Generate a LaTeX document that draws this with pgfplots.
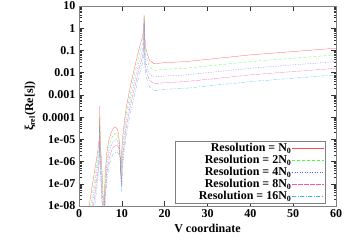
\documentclass[border=0pt]{standalone}
\usepackage{fontspec}
\setmainfont{Liberation Serif}
\usepackage{pgfplots}
\pgfplotsset{compat=1.18}
\begin{document}
\begin{tikzpicture}
\begin{axis}[
  scale only axis, width=257pt, height=200pt,
  xmin=0, xmax=60, ymin=1e-8, ymax=10, ymode=log,
  xtick={0,10,20,30,40,50,60}, xticklabels={0,10,20,30,40,50,60},
  ytick={1e-8,1e-7,1e-6,1e-5,1e-4,1e-3,1e-2,1e-1,1,10},
  yticklabels={1e-08,1e-07,1e-06,1e-05,0.0001,0.001,0.01,0.1,1,10},
  tick label style={font=\fontsize{12}{14}\selectfont\bfseries},
  label style={font=\fontsize{12}{14}\selectfont\bfseries},
  xlabel={V coordinate},
  ylabel={ξ\textsubscript{rel}(Re[s])},
  tick align=inside, major tick length=5pt, minor tick length=2.5pt,
  axis line style={gray, line width=1pt},
  every tick/.style={black!80, line width=0.5pt},
  legend style={at={(0.96,0.01)}, anchor=south east, draw=gray, line width=1pt,
    font=\fontsize{12}{12}\selectfont\bfseries, row sep=0pt, inner sep=1pt,
    nodes={text height=8.5pt, text depth=2.5pt, inner sep=0.5pt}},
  legend cell align=right, legend plot pos=right,
  legend image code/.code={\draw[#1] (0pt,0pt) -- (32pt,0pt);},
]
\coordinate (ll) at (rel axis cs:0,0);
\coordinate (ur) at (rel axis cs:1,1);
\addplot[red!70, line width=0.25pt, solid] coordinates {
(2.2,5.01e-9)(2.6,2.0e-8)(3.0,6.31e-8)(3.5,2.51e-7)(4.0,1e-6)(4.4,3.16e-6)(4.7,1e-5)(4.8,5.01e-5)(4.85,3.16e-4)(4.9,3.98e-5)(5.0,6.31e-6)(5.3,6.31e-7)(5.6,5.01e-8)(5.8,2.51e-9)
(6.1,2.51e-7)(6.5,2.51e-6)(7.0,1e-5)(7.5,2.0e-5)(8.0,3.16e-5)(8.5,3.55e-5)(9.0,2.82e-5)(9.3,1.41e-5)(9.55,3.16e-6)(9.75,2.51e-7)(9.95,2.51e-6)
(10.2,1.26e-5)(10.6,6.31e-5)(11.0,2.51e-4)(12.0,2.51e-3)(13.0,1.78e-2)(14.0,0.112)(14.8,0.398)(15.1,0.794)(15.2,3.98)(15.3,0.501)(15.6,0.126)
(16.0,0.0631)(16.5,0.0355)(17.5,0.0251)(20,0.0282)(25,0.0316)(30,0.0398)(40,0.0631)(50,0.0891)(60,0.126)};
\addlegendentry{Resolution = N\textsubscript{0}}
\addplot[green!75, line width=0.25pt, dash pattern=on 3pt off 2pt] coordinates {
(2.5,5.01e-9)(2.9,1.58e-8)(3.3,5.01e-8)(3.7,1.58e-7)(4.1,6.31e-7)(4.45,2.0e-6)(4.7,5.01e-6)(4.8,2.0e-5)(4.85,1e-4)(4.9,1.58e-5)(5.0,3.16e-6)(5.3,3.16e-7)(5.55,3.16e-8)(5.75,2.51e-9)
(6.1,1e-7)(6.5,1.26e-6)(7.0,5.01e-6)(7.5,1e-5)(8.0,1.58e-5)(8.6,1.91e-5)(9.1,1.41e-5)(9.4,7.08e-6)(9.6,1.58e-6)(9.8,1.58e-7)(10.0,1.58e-6)
(10.25,7.94e-6)(10.65,3.55e-5)(11.0,1.26e-4)(12.0,1.26e-3)(13.0,8.91e-3)(14.0,0.0562)(14.8,0.2)(15.1,0.398)(15.2,3.16)(15.3,0.251)(15.6,0.0631)
(16.0,0.0316)(16.5,0.0178)(17.5,0.0126)(20,0.0141)(25,0.0158)(30,0.02)(40,0.0316)(50,0.0447)(60,0.0631)};
\addlegendentry{Resolution = 2N\textsubscript{0}}
\addplot[blue!65, line width=0.25pt, dash pattern=on 1pt off 1.5pt] coordinates {
(2.8,5.01e-9)(3.2,1.58e-8)(3.6,6.31e-8)(4.0,2.0e-7)(4.4,7.94e-7)(4.7,2.51e-6)(4.8,7.94e-6)(4.85,3.98e-5)(4.9,6.31e-6)(5.0,1.58e-6)(5.25,1.58e-7)(5.5,1.58e-8)(5.7,2.51e-9)
(6.1,5.01e-8)(6.5,6.31e-7)(7.0,2.51e-6)(7.5,5.01e-6)(8.0,7.94e-6)(8.7,1e-5)(9.2,7.08e-6)(9.5,3.16e-6)(9.7,7.94e-7)(9.85,1e-7)(10.05,1e-6)
(10.3,5.01e-6)(10.7,2.0e-5)(11.0,6.31e-5)(12.0,6.31e-4)(13.0,4.47e-3)(14.0,0.0282)(14.8,0.1)(15.1,0.2)(15.2,2.51)(15.3,0.126)(15.6,0.0316)
(16.0,0.0158)(16.5,8.91e-3)(17.5,6.31e-3)(20,7.08e-3)(25,7.94e-3)(30,0.01)(40,0.0158)(50,0.0224)(60,0.0316)};
\addlegendentry{Resolution = 4N\textsubscript{0}}
\addplot[magenta!65, line width=0.25pt, dash pattern=on 5pt off 1pt] coordinates {
(3.1,5.01e-9)(3.5,1.58e-8)(3.9,6.31e-8)(4.3,2.51e-7)(4.6,7.94e-7)(4.75,2.51e-6)(4.85,1.58e-5)(4.9,3.16e-6)(5.0,7.94e-7)(5.2,1e-7)(5.45,1e-8)(5.65,2.51e-9)
(6.1,2.51e-8)(6.5,3.16e-7)(7.0,1.26e-6)(7.5,2.82e-6)(8.0,4.47e-6)(8.8,5.62e-6)(9.3,3.98e-6)(9.6,1.58e-6)(9.75,5.01e-7)(9.9,7.08e-8)(10.1,6.31e-7)
(10.35,3.16e-6)(10.75,1.12e-5)(11.0,3.16e-5)(12.0,3.16e-4)(13.0,2.24e-3)(14.0,0.0141)(14.8,0.0501)(15.1,0.1)(15.2,2.0)(15.3,0.0631)(15.6,0.0158)
(16.0,7.94e-3)(16.5,4.47e-3)(17.5,3.16e-3)(20,3.55e-3)(25,3.98e-3)(30,5.01e-3)(40,7.94e-3)(50,0.0112)(60,0.0158)};
\addlegendentry{Resolution = 8N\textsubscript{0}}
\addplot[cyan!80, line width=0.25pt, dash pattern=on 4pt off 1.5pt on 1pt off 1.5pt] coordinates {
(3.4,5.01e-9)(3.8,1.58e-8)(4.2,7.94e-8)(4.5,2.51e-7)(4.75,1e-6)(4.85,6.31e-6)(4.9,1.58e-6)(5.0,3.98e-7)(5.2,5.01e-8)(5.4,7.94e-9)(5.6,2.51e-9)
(6.1,1.26e-8)(6.5,1.58e-7)(7.0,6.31e-7)(7.5,1.41e-6)(8.0,2.24e-6)(8.9,2.82e-6)(9.4,2.0e-6)(9.7,7.94e-7)(9.85,2.51e-7)(9.95,4.47e-8)(10.15,3.98e-7)
(10.4,2.0e-6)(10.8,6.31e-6)(11.0,1.58e-5)(12.0,1.58e-4)(13.0,1.12e-3)(14.0,7.08e-3)(14.8,0.0251)(15.1,0.0501)(15.2,1.58)(15.3,0.0316)(15.6,7.94e-3)
(16.0,3.98e-3)(16.5,2.24e-3)(17.5,1.58e-3)(20,1.78e-3)(25,2.0e-3)(30,2.51e-3)(40,3.98e-3)(50,5.62e-3)(60,7.94e-3)};
\addlegendentry{\hspace*{22pt}Resolution = 16N\textsubscript{0}}
\end{axis}
\pgfresetboundingbox
\path[use as bounding box] ([shift={(-79pt,-36pt)}]ll) rectangle ([shift={(8pt,6pt)}]ur);
\end{tikzpicture}
\end{document}
